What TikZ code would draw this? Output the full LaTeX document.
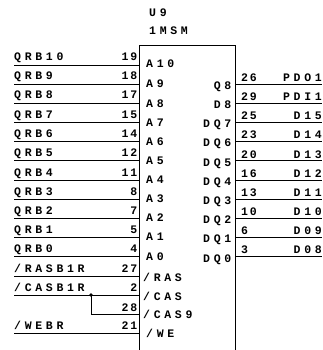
\documentclass[tikz,border=0pt]{standalone}
\usepackage{fontspec}
\newfontfamily\chipfont[LetterSpace=32,BoldFont={Liberation Mono Bold}]{Liberation Mono}
\newfontfamily\pinfont[LetterSpace=16,BoldFont={Liberation Mono Bold}]{Liberation Mono}
\begin{document}
\begin{tikzpicture}[x=1pt,y=-1pt,
  wire/.style={draw=black,line width=0.9pt},
  sig/.style={inner sep=0pt,anchor=base west,font=\chipfont\bfseries\fontsize{11.5}{12}\selectfont},
  sigr/.style={inner sep=0pt,anchor=base east,font=\chipfont\bfseries\fontsize{11.5}{12}\selectfont},
  pinl/.style={inner sep=0pt,anchor=base east,font=\pinfont\bfseries\fontsize{11.5}{12}\selectfont},
  pinr/.style={inner sep=0pt,anchor=base west,font=\pinfont\bfseries\fontsize{11.5}{12}\selectfont}]
\useasboundingbox (0,0) rectangle (322,350);
\fill[white] (0,0) rectangle (322,350);
\coordinate (bl) at (139,350);
\coordinate (tl) at (139,45.5);
\coordinate (tr) at (235,45.5);
\coordinate (br) at (235,350);
\draw[wire] (bl) -- (tl) -- (tr) -- (br);
\node[sig] (ref) at (149,16.5) {U9};
\node[sig] (val) at (149,35) {1MSM};
% left side
\foreach \i/\net/\pin/\yy/\pn/\tb/\tx in {
 a/QRB10/19/65/A10/68/146,
 b/QRB9/18/84/A9/88/146,
 c/QRB8/17/103/A8/107/146,
 d/QRB7/15/122/A7/126/146,
 e/QRB6/14/141/A6/145/146,
 f/QRB5/12/160.5/A5/164/146,
 g/QRB4/11/180/A4/183/146,
 h/QRB3/8/199/A3/202/146,
 i/QRB2/7/218/A2/221/146,
 j/QRB1/5/237/A1/240/146,
 k/QRB0/4/256/A0/260/146,
 l/{/RASB1R}/27/276/{/RAS}/281/143,
 m/{/CASB1R}/2/295/{/CAS}/300/143,
 n/{/WEBR}/21/333.5/{/WE}/337/146}{
  \coordinate (w\i) at (14,\yy);
  \coordinate (p\i) at (139,\yy);
  \draw[wire] (w\i) -- (p\i);
  \node[sig] (net\i) at (14,\yy-4) {\net};
  \node[pinl] (pin\i) at (137.5,\yy-4) {\pin};
  \node[sig] (lab\i) at (\tx,\tb) {\pn};
}
\coordinate (jn) at (91,295);
\coordinate (pcas) at (139,314.5);
\fill (jn) circle (1.8pt);
\draw[wire] (jn) |- (pcas);
\node[pinl] (pin28) at (137.5,311) {28};
\node[sig] (labcas) at (143,318) {/CAS9};
% right side
\foreach \i/\net/\pin/\yy/\pn/\tb in {
 a/PDO1/26/84/Q8/89,
 b/PDI1/29/103/D8/108,
 c/D15/25/122/DQ7/127,
 d/D14/23/141/DQ6/146,
 e/D13/20/160.5/DQ5/166,
 f/D12/16/180/DQ4/185,
 g/D11/13/199/DQ3/204,
 h/D10/10/218/DQ2/223,
 i/D09/6/237/DQ1/242,
 j/D08/3/256/DQ0/262}{
  \coordinate (ra\i) at (235,\yy);
  \coordinate (rb\i) at (322,\yy);
  \draw[wire] (ra\i) -- (rb\i);
  \node[sigr] (rnet\i) at (322,\yy-2.5) {\net};
  \node[pinr] (rpin\i) at (241,\yy-2.5) {\pin};
  \node[sigr] (rlab\i) at (231.5,\tb) {\pn};
}
\end{tikzpicture}
\end{document}
